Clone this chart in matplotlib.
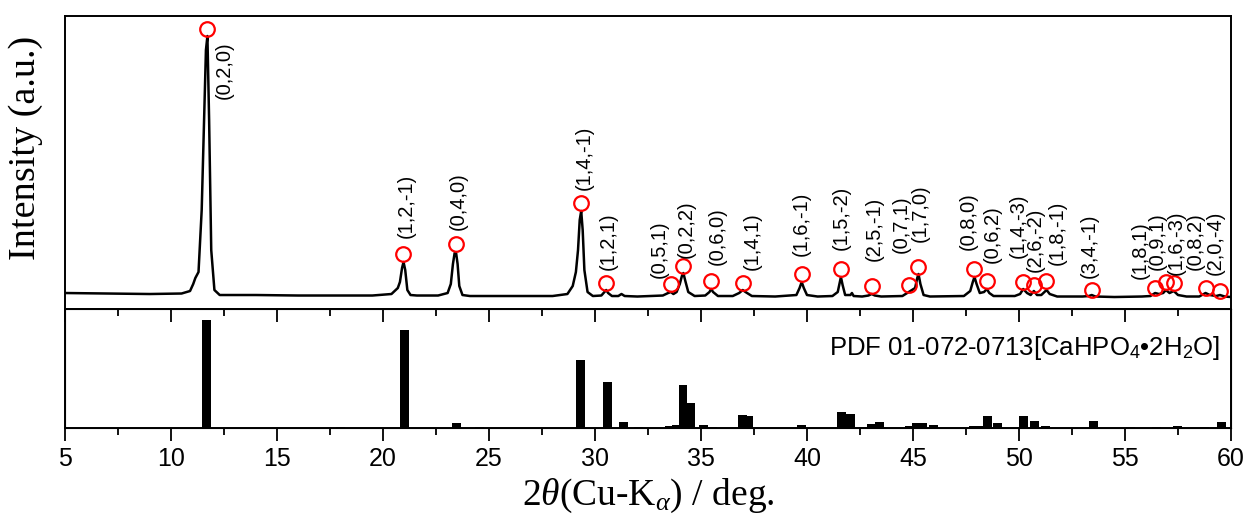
import matplotlib
matplotlib.use('Agg')
import matplotlib.pyplot as plt
from matplotlib.ticker import MultipleLocator

plt.rcParams['font.family'] = ['Liberation Sans', 'DejaVu Sans']
plt.rcParams['mathtext.fontset'] = 'custom'
plt.rcParams['mathtext.rm'] = 'Liberation Serif'
plt.rcParams['mathtext.it'] = 'Liberation Serif:italic'
plt.rcParams['mathtext.sf'] = 'Liberation Sans'

# --- measured XRD pattern (2theta, intensity a.u.) ---
two_theta = [5.0, 7.0, 9.0, 10.5, 10.9, 11.05, 11.15, 11.3, 11.45, 11.55, 11.65, 11.72, 11.8, 11.9,
             12.05, 12.3, 14.0, 16.0, 18.0, 19.5, 20.4, 20.6, 20.7, 20.8, 20.9, 20.97, 21.05, 21.15,
             21.3, 21.6, 22.6, 23.05, 23.2, 23.3, 23.38, 23.45, 23.52, 23.6, 23.75, 24.1, 26.0, 28.0,
             28.7, 28.95, 29.1, 29.2, 29.28, 29.35, 29.42, 29.5, 29.65, 29.9, 30.3, 30.45, 30.53,
             30.62, 30.8, 31.1, 31.25, 31.4, 32.0, 33.2, 33.45, 33.58, 33.7, 33.85, 34.0, 34.1, 34.17,
             34.25, 34.4, 34.7, 35.2, 35.4, 35.48, 35.57, 35.8, 36.5, 36.8, 36.97, 37.1, 37.4, 38.5,
             39.5, 39.65, 39.75, 39.85, 40.0, 40.5, 41.2, 41.45, 41.55, 41.6, 41.68, 41.8, 42.05,
             42.12, 42.2, 42.6, 42.9, 43.05, 43.2, 43.5, 44.5, 44.8, 44.95, 45.1, 45.2, 45.26, 45.35,
             45.5, 45.8, 47.4, 47.7, 47.82, 47.9, 48.0, 48.15, 48.35, 48.48, 48.6, 48.8, 49.8, 50.05,
             50.2, 50.38, 50.55, 50.7, 50.85, 51.05, 51.2, 51.3, 51.45, 51.8, 53.0, 53.3, 53.43,
             53.6, 54.5, 55.8, 56.2, 56.42, 56.6, 56.8, 56.93, 57.1, 57.3, 57.5, 57.9, 58.5, 58.8,
             59.0, 59.3, 59.48, 59.7, 60.0]
intensity = [7, 6.5, 6, 6.5, 9, 16, 22, 28, 90, 170, 250, 264, 180, 50,
             10, 5, 5, 4.5, 4.5, 4.5, 6, 10, 12, 18, 32, 38, 30, 10,
             5, 4.5, 4.5, 7, 16, 36, 47, 47, 36, 14, 5, 4, 4, 4,
             6, 14, 28, 50, 80, 89, 70, 30, 8, 4, 4.5, 8, 10,
             7, 4, 4, 6, 4, 3.5, 4.5, 7, 8, 6, 8, 16, 24, 27,
             20, 8, 4, 4.5, 8, 11, 8, 4, 4, 7, 10, 8, 4, 3.5,
             5, 12, 18, 12, 5, 3.5, 4, 8, 18, 23, 15, 5, 5,
             7, 4, 3.5, 4.5, 6, 4.5, 3.5, 4, 8, 10, 12, 22, 26, 16,
             5, 3.5, 4, 9, 18, 23, 16, 7, 8, 11, 7, 4, 4, 6,
             11, 7, 5, 9, 5, 5, 8, 10, 6, 3.5, 3.5, 4, 5,
             3.5, 3, 3.5, 4, 7, 6, 7, 10, 7, 9, 5, 3.5, 3.5, 7,
             5, 4, 5, 3.5, 3]

# --- indexed reflections (marker positions) ---
hkl = ['(0,2,0)', '(1,2,-1)', '(0,4,0)', '(1,4,-1)', '(1,2,1)', '(0,5,1)', '(0,2,2)', '(0,6,0)',
       '(1,4,1)', '(1,6,-1)', '(1,5,-2)', '(2,5,-1)', '(0,7,1)', '(1,7,0)', '(0,8,0)', '(0,6,2)',
       '(1,4,-3)', '(2,6,-2)', '(1,8,-1)', '(3,4,-1)', '(1,8,1)', '(0,9,1)', '(1,6,-3)', '(0,8,2)',
       '(2,0,-4)']
peak_x = [11.70, 20.96, 23.44, 29.35, 30.52, 33.58, 34.17, 35.47, 36.97, 39.75, 41.59, 43.05,
          44.83, 45.25, 47.89, 48.48, 50.20, 50.71, 51.27, 53.43, 56.42, 56.93, 57.33, 58.81, 59.48]
peak_y = [271, 46, 56, 97, 17, 16, 34, 19, 17, 26, 31, 14,
          15, 33, 31, 19, 18, 15, 19, 10, 12, 18, 17, 12, 9]

# --- reference pattern PDF 01-072-0713 ---
ref_x = [11.69, 18.0, 21.0, 23.45, 24.55, 29.33, 30.57, 31.33, 32.06, 33.53, 33.82, 34.15, 34.5,
         35.1, 35.55, 36.94, 37.25, 39.74, 41.62, 42.07, 42.64, 43.02, 43.44, 44.85, 45.15, 45.45,
         45.95, 47.84, 48.13, 48.52, 49.0, 50.23, 50.74, 51.27, 53.52, 55.26, 56.5, 57.46, 58.77,
         59.56]
ref_i = [100, 0.6, 91.4, 4.2, 0.6, 63.3, 42.5, 5.8, 0.6, 1.6, 2.9, 39.9, 23.3,
         2.9, 1.0, 12.1, 11.2, 2.6, 15.0, 12.8, 0.6, 3.5, 5.8, 1.9, 4.5, 4.8,
         2.9, 1.6, 2.2, 11.5, 4.8, 11.5, 6.7, 1.6, 6.7, 1.0, 1.3, 1.6, 1.3, 5.1]

# label offsets from marker, in pixels (dx right, dy up)
label_off = [(17, -12), (3, 16), (2, 14), (3, 13), (2, 13), (-12, 6), (3, 8), (6, 16),
             (9, 13), (0, 18), (1, 19), (3, 25), (-8, 32), (2, 25), (-6, 19), (5, 18),
             (-5, 24), (1, 13), (11, 16), (-2, 12), (-15, 9), (-9, 12), (2, 8), (-11, 18),
             (-5, 16)]

fig = plt.figure(figsize=(12.49, 5.25), dpi=100)
ax1 = fig.add_axes([0.0520, 0.4114, 0.9336, 0.5581])
ax2 = fig.add_axes([0.0520, 0.1848, 0.9336, 0.2266], sharex=ax1)

ax1.plot(two_theta, intensity, color='black', lw=1.8)
ax1.plot(peak_x, peak_y, 'o', mfc='none', mec='red', ms=10.5, mew=1.6)
for i, (lab, px, py) in enumerate(zip(hkl, peak_x, peak_y)):
    dx, dy = label_off[i]
    va = 'top' if dy < 0 else 'bottom'
    ax1.annotate(lab, (px, py), xytext=(dx * 0.72, dy * 0.72), textcoords='offset points',
                 rotation=90, ha='center', va=va, fontsize=14.5)
ax1.set_xlim(5, 60)
ax1.set_ylim(-9, 284)
ax1.set_yticks([])
ax1.tick_params(axis='x', which='both', bottom=False, labelbottom=False)
ax1.set_ylabel('Intensity (a.u.)', family='Liberation Serif', fontsize=27.5)
ax1.yaxis.set_label_coords(-0.019, 0.55)

ax2.bar(ref_x, ref_i, width=0.42, color='black')
ax2.set_ylim(0, 110.5)
ax2.set_yticks([])
ax2.xaxis.set_major_locator(MultipleLocator(5))
ax2.xaxis.set_minor_locator(MultipleLocator(2.5))
ax2.tick_params(axis='x', which='both', direction='out', top=False, labelsize=18, width=1.3,
                pad=5)
ax2.tick_params(axis='x', which='major', length=9)
ax2.tick_params(axis='x', which='minor', length=5)
ax2.text(0.991, 0.67, 'PDF 01-072-0713[CaHPO$_\\mathsf{4}$\u20222H$_\\mathsf{2}$O]',
         transform=ax2.transAxes, ha='right', va='center', fontsize=18.5)
ax2.set_xlabel('2$\\theta$(Cu-K$_\\alpha$) / deg.', family='Liberation Serif', fontsize=27,
               labelpad=4)

for ax in (ax1, ax2):
    for s in ax.spines.values():
        s.set_linewidth(1.4)

# top-edge ticks of the reference panel point into the panel
top_ax = ax2.twiny()
top_ax.set_xlim(ax2.get_xlim())
top_ax.xaxis.set_major_locator(MultipleLocator(5))
top_ax.xaxis.set_minor_locator(MultipleLocator(2.5))
top_ax.tick_params(axis='x', which='both', direction='in', labeltop=False, width=1.3)
top_ax.tick_params(axis='x', which='major', length=9)
top_ax.tick_params(axis='x', which='minor', length=5)

fig.savefig('out.png', dpi=100)
